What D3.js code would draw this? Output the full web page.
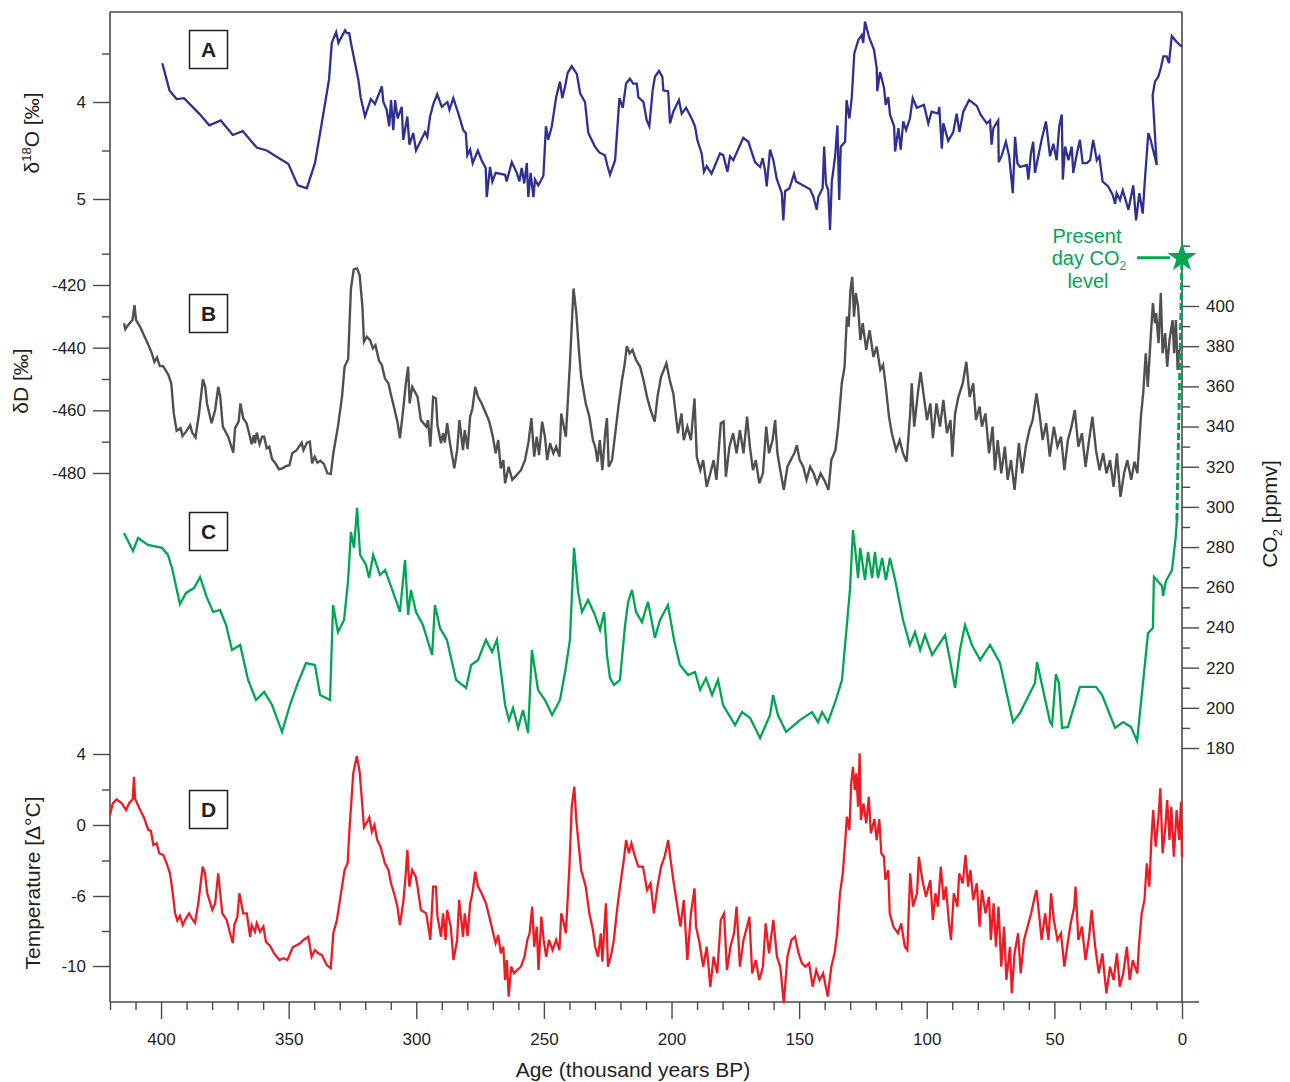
<!DOCTYPE html>
<html>
<head>
<meta charset="utf-8">
<script src="https://cdn.jsdelivr.net/npm/d3@7/dist/d3.min.js"></script>
<style>
  body { margin: 0; background: #fff; }
  svg { display: block; }
</style>
</head>
<body>
<svg id="chart" width="1290" height="1082"></svg>
<script>
// A: benthic d18O stack (per mil)
const aAge = [399.5,396.7,393.9,391.0,384.7,381.1,376.6,371.9,368.0,362.5,358.6,350.1,346.4,342.9,339.7,336.4,334.2,333.1,331.4,330.5,327.9,327.2,326.3,325.3,322.7,321.8,320.1,317.8,316.2,313.5,312.9,311.6,310.6,309.9,309.0,308.3,307.3,305.7,305.1,303.5,302.7,301.2,300.1,296.6,295.7,294.6,293.3,291.8,290.0,287.8,287.0,285.5,283.5,281.6,280.6,280.0,278.9,277.9,275.9,274.4,272.8,272.4,271.1,270.2,268.9,265.2,264.6,262.6,260.6,259.6,258.7,257.7,256.7,256.1,255.2,254.1,253.5,252.2,250.2,249.2,248.3,246.9,245.2,243.7,242.8,241.7,240.7,239.1,237.1,235.8,233.9,232.6,230.0,228.3,226.1,225.2,224.1,222.1,220.4,219.1,217.8,216.3,215.0,213.6,213.0,211.0,209.7,208.7,207.4,206.5,204.9,203.6,203.2,201.3,200.6,199.3,197.1,196.0,194.3,192.1,190.8,189.9,188.2,187.3,186.2,184.3,181.0,179.7,178.1,177.1,175.8,171.9,169.9,167.3,165.3,164.3,163.4,162.7,161.4,160.1,158.8,156.8,156.2,155.5,153.8,152.0,151.2,145.7,144.4,143.1,142.5,140.8,140.2,139.5,138.6,137.9,137.2,135.9,135.0,134.3,133.7,132.0,131.4,130.3,129.4,128.4,126.8,125.5,124.9,124.2,122.5,120.7,119.6,119.4,118.3,116.7,116.1,115.1,114.4,112.8,112.4,111.1,110.2,109.2,108.1,106.6,105.5,103.9,101.1,99.4,98.1,95.5,95.1,94.1,93.5,91.6,89.6,88.3,87.2,85.7,83.4,80.4,78.9,76.5,75.2,74.6,73.9,72.0,71.8,70.6,69.0,67.7,66.3,65.4,64.5,63.5,60.8,60.2,59.2,58.3,57.6,56.3,55.0,53.3,51.7,50.4,49.1,48.1,47.1,46.7,45.8,44.5,43.2,42.6,41.3,40.0,38.9,37.3,36.0,34.8,33.4,32.4,31.1,28.9,27.1,26.2,25.6,24.3,23.2,21.0,19.1,18.0,16.7,15.4,14.5,13.2,12.3,9.9,11.5,10.6,9.3,8.3,7.3,6.0,5.1,4.0,2.1,0.1];
const aVal = [3.60,3.88,3.97,3.96,4.13,4.24,4.19,4.34,4.30,4.47,4.50,4.64,4.86,4.89,4.63,4.12,3.77,3.39,3.28,3.39,3.26,3.29,3.29,3.43,3.77,3.95,4.15,3.97,4.02,3.84,4.00,4.08,4.25,3.98,4.29,3.98,4.17,4.05,4.39,4.15,4.44,4.32,4.50,4.31,4.36,4.15,4.02,3.92,4.05,4.00,4.08,3.96,4.12,4.29,4.32,4.55,4.49,4.63,4.50,4.60,4.68,4.98,4.67,4.82,4.73,4.75,4.82,4.62,4.73,4.82,4.68,4.84,4.63,4.98,4.73,4.98,4.80,4.86,4.76,4.25,4.39,4.25,3.95,3.79,3.96,3.84,3.70,3.63,3.71,3.91,4.00,4.32,4.46,4.52,4.55,4.65,4.75,4.60,3.96,4.06,3.81,3.76,3.81,3.81,3.95,4.00,4.19,4.25,3.88,3.74,3.68,3.74,3.88,3.89,4.22,4.10,3.98,4.12,4.06,4.17,4.25,4.39,4.53,4.72,4.66,4.74,4.53,4.55,4.72,4.56,4.60,4.37,4.41,4.62,4.67,4.58,4.70,4.87,4.49,4.60,4.79,4.94,5.22,4.92,4.89,4.74,4.82,4.90,4.98,5.11,4.98,4.89,4.46,4.84,4.91,5.32,4.82,4.56,4.24,5.01,4.46,4.41,3.98,4.17,3.96,3.50,3.36,3.31,3.39,3.17,3.34,3.46,3.65,3.89,3.69,3.86,4.03,3.95,4.13,4.25,4.51,4.27,4.49,4.20,4.29,4.17,3.96,4.06,4.03,4.22,4.10,4.12,4.05,4.48,4.22,4.40,4.31,4.12,4.31,4.10,3.98,4.04,4.13,4.22,4.19,4.44,4.27,4.19,4.62,4.55,4.41,4.56,4.94,4.36,4.63,4.67,4.65,4.80,4.53,4.41,4.73,4.56,4.39,4.20,4.56,4.43,4.60,4.25,4.13,4.80,4.46,4.60,4.46,4.73,4.55,4.39,4.63,4.63,4.60,4.39,4.60,4.56,4.82,4.87,4.96,5.05,4.94,5.01,4.91,5.11,4.86,5.22,4.94,5.15,4.79,4.32,4.39,4.65,3.93,3.79,3.74,3.65,3.53,3.53,3.60,3.32,3.38,3.43];

// B: deuterium (per mil)
const bAge = [414.5,414.0,412.9,411.2,410.4,409.8,408.1,406.7,404.9,403.6,402.6,401.6,400.5,399.2,397.1,396.0,395.0,393.9,392.3,391.6,390.2,388.6,387.8,386.5,385.2,383.6,382.7,382.0,380.2,378.8,377.6,376.8,375.8,373.7,371.7,371.0,369.6,368.9,367.8,366.5,365.5,364.5,363.7,363.2,362.5,361.4,360.4,359.6,358.6,357.6,356.5,355.2,353.8,352.4,351.1,349.7,348.6,346.9,344.9,344.2,342.8,341.7,340.8,339.8,338.7,337.6,336.2,334.8,333.5,332.5,330.7,329.1,328.1,326.7,325.6,324.5,323.2,322.2,321.1,320.5,319.4,318.1,317.0,316.0,314.6,313.5,312.3,310.9,309.9,308.8,307.4,306.4,305.0,304.1,303.2,302.6,301.6,300.2,299.5,298.2,296.1,295.4,294.5,293.4,292.3,291.7,290.3,289.5,288.8,287.9,286.8,285.1,284.0,283.1,281.7,281.0,279.9,278.9,278.0,276.9,275.8,274.4,272.7,271.4,270.0,268.9,267.9,266.9,265.9,265.2,263.8,262.4,260.6,259.0,257.4,256.0,254.9,253.8,252.8,251.9,250.7,249.6,248.7,247.6,246.3,245.2,243.9,243.2,242.2,241.4,239.8,238.4,237.3,236.3,235.4,233.6,232.2,230.8,229.9,229.0,228.1,227.1,226.0,225.3,224.6,223.3,222.2,220.8,219.4,218.5,217.5,216.4,215.3,213.9,212.3,211.0,209.6,208.2,206.6,205.5,204.1,202.0,200.7,199.3,197.5,196.1,195.2,193.8,192.4,191.0,190.1,188.7,187.6,186.2,184.8,183.5,182.4,180.7,179.6,178.7,177.3,175.9,174.5,173.2,171.8,170.4,169.3,168.1,167.0,165.6,164.2,162.9,161.8,160.4,159.4,158.5,157.4,156.0,154.6,153.3,151.9,150.9,149.8,148.4,147.1,145.7,144.3,143.0,141.6,140.2,138.5,137.4,135.8,134.7,133.3,132.2,131.3,130.6,129.9,129.2,128.5,127.8,126.9,126.0,125.1,123.7,122.4,120.9,119.6,118.2,117.1,116.2,114.8,113.7,112.0,110.6,109.3,107.9,106.5,105.9,104.9,103.5,102.4,101.3,99.9,98.6,97.6,96.2,94.8,93.5,92.1,90.7,90.0,88.9,87.6,85.9,84.5,83.2,81.8,80.7,79.3,78.4,77.0,75.6,74.2,73.3,72.2,70.8,69.4,68.3,67.0,65.6,63.9,62.6,61.2,59.8,58.5,57.0,55.7,54.6,53.2,51.8,50.2,48.8,47.4,46.1,44.7,43.3,42.0,40.6,39.2,37.8,36.4,35.1,33.7,32.3,30.9,29.6,28.2,26.8,25.5,24.1,22.7,21.4,19.9,18.6,17.5,16.1,15.2,14.2,13.4,12.4,11.4,10.6,10.1,9.2,8.3,7.6,6.6,5.8,4.9,3.7,3.1,2.4,1.7,1.0];
const bVal = [-432.2,-434.1,-432.8,-431.2,-426.4,-431.2,-433.5,-436.0,-439.2,-441.8,-444.5,-443.1,-445.9,-445.9,-448.7,-451.4,-461.0,-466.5,-465.7,-468.2,-466.8,-464.7,-467.1,-468.6,-461.5,-450.1,-452.5,-457.8,-464.1,-459.9,-452.5,-455.7,-465.2,-468.4,-473.5,-465.7,-463.6,-457.8,-462.5,-464.1,-467.3,-470.8,-467.9,-470.5,-467.1,-470.8,-468.4,-468.4,-472.1,-471.6,-475.6,-476.9,-478.8,-478.5,-477.8,-477.5,-473.7,-472.7,-470.3,-472.7,-470.3,-470.0,-476.9,-474.8,-476.7,-476.1,-477.1,-480.1,-480.3,-473.7,-465.2,-455.7,-446.1,-443.7,-421.1,-415.0,-414.7,-416.8,-426.9,-438.1,-436.5,-437.6,-440.2,-439.2,-444.2,-445.5,-449.8,-451.4,-455.1,-458.8,-463.6,-468.9,-458.8,-451.4,-446.1,-457.8,-452.5,-454.6,-455.7,-463.1,-465.2,-463.1,-471.6,-455.7,-456.2,-464.7,-470.5,-467.3,-470.3,-464.1,-470.5,-478.5,-472.7,-463.1,-472.7,-466.3,-472.4,-462.0,-459.4,-452.5,-455.7,-457.8,-461.0,-463.6,-468.4,-473.7,-469.5,-478.5,-475.9,-483.3,-478.0,-482.2,-480.6,-479.1,-475.9,-470.0,-462.5,-474.8,-468.4,-474.3,-463.6,-468.4,-475.9,-470.5,-473.7,-471.6,-474.8,-461.0,-465.2,-468.4,-445.0,-421.1,-429.0,-440.7,-449.3,-457.8,-462.0,-469.5,-471.6,-476.4,-469.5,-479.1,-467.3,-462.5,-478.0,-475.9,-468.4,-458.8,-450.3,-446.1,-439.5,-441.8,-440.7,-443.9,-446.1,-450.3,-455.7,-459.9,-463.6,-455.7,-449.3,-445.0,-450.3,-454.6,-467.3,-461.0,-469.5,-465.2,-469.5,-456.2,-474.8,-479.1,-475.9,-484.4,-480.1,-475.9,-482.2,-464.1,-463.6,-481.2,-471.6,-467.3,-473.7,-466.3,-473.7,-462.0,-471.6,-479.1,-475.9,-483.3,-480.1,-465.2,-473.7,-469.5,-463.1,-473.7,-479.1,-485.4,-478.0,-475.9,-473.7,-471.1,-475.9,-478.0,-482.2,-478.0,-480.1,-483.3,-480.1,-482.2,-485.4,-475.9,-472.7,-465.2,-451.4,-446.1,-430.1,-433.3,-421.6,-417.4,-430.1,-422.6,-426.9,-437.6,-432.2,-440.7,-434.4,-442.9,-439.7,-447.1,-445.5,-451.4,-462.0,-467.3,-472.7,-469.5,-473.7,-476.4,-461.0,-451.4,-465.2,-454.6,-447.7,-454.6,-463.1,-457.8,-468.9,-457.8,-465.2,-456.7,-467.3,-463.1,-474.8,-461.0,-455.7,-451.4,-444.5,-455.7,-451.4,-463.1,-458.8,-465.2,-461.0,-473.7,-465.2,-479.1,-469.5,-480.1,-471.6,-482.2,-475.9,-485.4,-470.5,-480.1,-471.6,-466.3,-463.1,-454.6,-462.0,-469.5,-464.1,-474.8,-465.2,-471.6,-468.4,-479.1,-469.5,-465.2,-459.9,-471.6,-467.3,-478.0,-469.5,-462.0,-472.7,-479.1,-473.7,-480.1,-475.9,-484.4,-473.7,-487.6,-480.1,-475.9,-482.2,-476.4,-480.1,-462.0,-454.6,-441.8,-452.5,-438.6,-425.8,-432.2,-429.0,-438.6,-422.6,-441.8,-435.4,-446.1,-437.6,-431.2,-441.8,-431.2,-447.1,-440.7];

// C: CO2 (ppmv)
const cAge = [414.5,411.0,409.0,405.1,399.6,397.3,395.7,392.6,390.2,387.1,384.7,382.0,379.6,376.9,374.5,372.2,369.0,365.9,362.8,359.6,356.5,352.6,349.5,346.7,343.2,339.7,337.7,333.8,332.6,330.7,328.3,326.7,325.6,324.4,323.2,322.0,319.7,318.5,316.9,314.2,312.2,308.3,306.4,304.4,303.2,302.1,300.1,297.4,293.8,292.7,290.7,288.0,284.4,280.5,278.5,275.8,272.7,270.3,268.4,265.2,263.7,262.1,260.1,258.2,256.2,254.7,252.3,249.6,246.8,243.7,241.7,239.8,238.2,236.6,235.1,232.7,230.0,228.0,226.4,225.3,224.1,222.5,220.2,218.2,217.0,215.5,213.9,211.6,209.2,206.5,204.5,201.4,199.0,196.7,193.5,190.8,188.8,186.5,184.1,181.8,179.8,175.1,172.4,169.2,165.3,161.4,160.2,158.3,155.1,149.7,145.0,142.6,141.0,138.7,135.6,133.2,130.1,128.9,128.1,126.9,126.1,124.2,123.0,121.4,120.3,119.1,117.5,116.0,114.4,112.4,109.3,106.6,104.6,102.6,100.7,97.9,92.8,90.9,88.9,87.0,85.0,82.3,79.1,75.2,71.3,66.2,63.5,57.6,56.8,51.7,50.9,49.4,48.2,47.0,44.7,40.0,33.7,31.3,26.2,23.1,20.0,17.6,13.3,11.4,11.0,7.8,7.4,6.3,3.9,2.4,2.0];
const cVal = [287.0,278.1,284.5,281.1,279.6,276.1,269.6,251.7,257.2,259.6,265.1,254.7,247.7,248.7,241.2,228.8,231.3,213.9,203.9,207.9,201.4,188.0,201.4,211.4,222.3,221.3,206.4,203.9,251.2,237.7,243.7,263.6,287.5,279.6,299.5,276.1,271.1,264.6,276.1,266.1,268.6,254.7,247.7,273.6,246.2,258.7,247.7,241.2,226.3,251.2,239.7,233.8,213.9,209.9,221.3,223.8,233.8,227.8,233.8,201.4,193.9,199.9,190.0,198.9,187.5,228.8,208.9,203.9,196.4,203.9,217.8,233.8,279.6,257.7,247.7,253.7,246.2,238.7,247.7,226.3,214.8,211.4,213.9,241.2,252.7,258.7,247.7,242.7,252.7,234.8,243.7,251.2,233.8,221.3,216.3,217.8,208.9,214.8,206.4,213.9,201.4,191.4,197.9,194.9,185.0,196.4,206.4,196.4,188.0,193.9,197.9,192.9,197.9,192.9,203.9,213.9,258.7,288.5,279.6,264.6,279.6,263.6,277.6,264.6,277.6,264.6,274.6,263.6,274.6,263.6,243.7,231.3,237.7,228.8,236.2,226.3,236.2,223.8,209.9,228.8,241.2,231.3,223.8,231.3,222.3,192.9,197.4,212.4,222.8,192.9,191.4,216.8,212.4,190.0,190.5,210.4,210.4,206.4,190.0,192.9,190.5,183.5,237.2,239.7,265.1,260.6,255.7,263.1,268.6,286.0,293.5];
const presentCO2 = [[2.0, 293.5], [0, 424]];

// D: temperature anomaly (deg C)
const dAge = [420.0,418.9,417.4,415.4,413.7,412.4,411.1,410.6,410.2,408.5,406.7,405.0,404.0,403.0,401.7,400.7,399.1,397.8,396.5,395.4,394.5,393.6,392.6,391.5,390.6,389.0,388.0,386.7,385.4,383.7,382.8,381.9,379.9,378.8,377.6,376.0,374.3,371.9,371.3,370.1,369.3,367.8,366.4,365.1,364.5,363.2,362.5,361.2,359.9,358.9,357.3,355.7,353.6,352.1,350.5,348.4,345.5,344.2,342.3,341.0,339.7,338.4,337.0,335.1,333.5,332.5,331.1,329.1,328.1,326.9,326.1,324.7,323.3,322.2,321.1,320.5,319.2,318.4,317.4,316.4,315.3,314.0,312.3,310.9,309.9,308.5,307.4,306.4,305.0,304.1,303.5,302.7,301.6,300.2,299.5,298.2,296.1,294.5,293.4,292.3,291.7,290.3,289.5,288.5,287.9,286.5,285.4,284.0,283.2,281.7,281.0,279.9,278.9,278.0,276.9,275.8,274.4,272.7,271.4,270.0,268.9,267.9,266.9,265.9,265.2,264.5,263.8,262.8,261.7,260.4,259.0,257.6,256.5,255.6,254.6,253.8,252.8,252.1,251.0,250.1,249.1,248.0,246.6,245.2,243.9,243.2,242.2,241.4,240.0,239.1,238.1,237.3,236.3,235.4,233.6,232.2,230.8,229.9,228.8,227.7,227.1,226.3,225.7,224.9,223.5,222.6,221.2,219.8,218.7,217.8,216.7,215.7,214.3,213.0,211.2,209.6,208.2,206.9,205.5,204.1,202.7,201.3,200.7,199.3,197.9,196.5,195.2,193.8,192.4,191.0,190.4,189.0,187.6,186.2,184.8,183.5,182.1,180.7,179.4,178.3,176.9,175.5,174.5,173.2,171.8,170.4,169.5,168.4,167.0,165.6,164.2,163.1,161.8,160.1,158.7,157.4,156.0,154.6,153.0,151.6,150.2,148.9,147.5,146.1,144.7,143.3,142.0,140.6,138.8,137.4,136.1,135.1,134.0,132.9,131.9,131.3,130.3,129.6,128.9,128.2,127.6,126.9,126.3,125.8,124.8,123.7,122.7,121.9,120.5,119.6,118.6,117.8,116.8,116.2,115.1,114.5,113.1,111.3,110.0,108.6,107.6,106.5,105.4,103.8,103.1,101.7,100.3,98.6,97.6,96.6,95.6,94.5,93.4,92.5,91.4,90.5,89.4,88.0,87.3,85.9,84.8,83.8,82.9,81.8,80.4,79.3,78.4,77.0,75.6,74.9,73.8,72.9,71.9,70.8,69.7,68.8,67.4,66.7,65.6,64.2,63.2,61.9,60.5,59.1,57.7,57.0,55.9,55.0,53.6,52.3,51.3,50.2,48.8,47.4,46.1,45.0,43.6,42.2,41.7,40.6,39.2,37.8,36.4,35.4,34.0,32.6,31.2,29.6,28.2,26.8,25.5,24.4,23.0,21.6,20.5,19.3,17.5,16.9,15.8,14.7,13.8,12.8,12.0,11.3,10.3,9.2,8.5,7.6,6.5,5.8,4.9,4.2,3.2,2.1,1.1,0.4,0.0];
const dVal = [0.56,1.22,1.45,1.22,0.84,1.26,1.45,2.72,1.50,0.94,0.43,-0.42,-0.48,-1.69,-1.55,-2.39,-2.54,-3.24,-4.08,-5.78,-6.99,-7.41,-7.14,-7.66,-7.37,-6.99,-7.27,-7.53,-6.42,-3.52,-4.08,-5.77,-6.80,-6.42,-4.08,-6.99,-7.37,-8.70,-7.66,-7.18,-5.77,-6.99,-6.99,-8.33,-7.66,-8.04,-7.56,-8.04,-7.75,-8.61,-8.86,-9.28,-9.66,-9.56,-9.66,-8.93,-8.70,-8.51,-8.33,-9.47,-9.09,-9.28,-9.37,-9.94,-10.13,-8.13,-7.37,-5.21,-3.80,-3.24,-0.14,2.91,3.89,3.00,1.03,-0.19,0.19,0.43,-0.57,0.00,-1.27,-1.83,-3.24,-3.80,-4.93,-5.92,-6.61,-7.66,-6.23,-4.08,-2.11,-5.21,-3.80,-4.37,-5.21,-6.80,-6.99,-8.51,-5.21,-5.21,-7.18,-8.33,-6.99,-8.51,-6.80,-7.75,-9.66,-8.51,-6.23,-8.33,-6.99,-8.29,-6.42,-5.77,-3.95,-5.21,-5.77,-6.42,-7.18,-8.04,-8.70,-8.23,-9.28,-8.90,-10.80,-9.66,-11.75,-10.04,-10.42,-10.23,-10.04,-9.47,-8.51,-8.13,-6.61,-8.90,-7.75,-10.23,-7.18,-8.51,-9.47,-8.51,-9.09,-8.51,-9.09,-6.99,-7.56,-8.13,-3.52,1.03,2.16,0.28,-1.83,-3.80,-5.21,-6.99,-7.94,-8.90,-9.47,-8.13,-9.76,-7.75,-6.42,-10.04,-9.28,-8.51,-6.61,-4.65,-2.96,-1.27,-2.39,-1.55,-2.68,-3.52,-3.52,-5.49,-4.93,-6.99,-5.21,-3.52,-2.68,-1.27,-2.39,-4.65,-6.42,-7.75,-6.23,-9.66,-6.99,-5.35,-7.75,-8.70,-10.04,-8.90,-11.19,-9.47,-10.42,-7.37,-6.99,-10.23,-8.90,-8.13,-6.61,-10.04,-8.51,-7.75,-7.18,-10.42,-9.66,-10.80,-10.04,-7.56,-9.28,-7.37,-9.47,-10.04,-12.13,-9.47,-8.51,-8.33,-9.28,-9.85,-10.04,-9.85,-11.18,-10.23,-10.80,-10.42,-11.75,-10.04,-9.28,-8.13,-5.77,-4.08,-1.27,0.47,-0.42,2.35,3.28,1.97,2.91,1.03,4.04,0.28,1.22,0.10,1.59,-0.70,0.34,-1.27,0.34,-2.39,-2.68,-4.65,-3.80,-6.99,-7.75,-8.13,-7.56,-8.90,-9.09,-4.08,-6.61,-5.77,-2.68,-4.65,-6.04,-4.65,-7.37,-5.77,-6.61,-3.52,-6.23,-5.21,-7.37,-8.51,-5.77,-6.61,-4.08,-4.93,-2.54,-5.21,-3.80,-6.23,-4.93,-7.75,-5.49,-6.99,-6.04,-8.51,-6.42,-8.90,-6.61,-10.04,-7.75,-10.80,-8.90,-11.56,-9.28,-8.13,-10.42,-8.51,-7.75,-6.99,-6.04,-5.49,-7.18,-8.51,-6.99,-8.51,-5.77,-7.37,-8.51,-8.13,-10.04,-8.90,-7.56,-6.61,-5.21,-8.51,-7.75,-9.66,-8.33,-6.80,-8.90,-10.42,-9.28,-11.56,-10.04,-10.80,-9.28,-11.18,-10.42,-8.90,-10.80,-9.66,-10.42,-8.90,-6.99,-6.23,-3.24,-5.21,-1.27,0.84,-1.83,0.47,2.07,-2.39,-0.14,1.41,-1.27,1.03,-2.68,0.84,-1.27,1.31,-2.68];

// ticks
const ageMajor = [400, 350, 300, 250, 200, 150, 100, 50, 0];
const ageMinor = [420, 410, 390, 380, 370, 360, 340, 330, 320, 310, 290, 280, 270, 260, 240, 230, 220, 210, 190, 180, 170, 160, 140, 130, 120, 110, 90, 80, 70, 60, 40, 30, 20, 10];
const aMajor = [4, 5];
const aMinor = [3.5, 4.5];
const bMajor = [-420, -440, -460, -480];
const bMinor = [-410, -430, -450, -470];
const cMajor = [180, 200, 220, 240, 260, 280, 300, 320, 340, 360, 380, 400];
const cMinor = [190, 210, 230, 250, 270, 290, 310, 330, 350, 370, 390, 410, 430];
const dMajor = [4, 0, -6, -10];
const dMinor = [2, -3, -8];

const font = "'Liberation Sans', Arial, Helvetica, sans-serif";
const ink = "#231f20";
const axisColor = "#4a4a4a";
const green = "#00a651";

const svg = d3.select("#chart").attr("font-family", font);

const x = d3.scaleLinear().domain([420, 0]).range([110, 1182]);
const yA = d3.scaleLinear().domain([4, 5]).range([102, 199]);
const yB = d3.scaleLinear().domain([-420, -480]).range([285, 473]);
const yC = d3.scaleLinear().domain([180, 400]).range([748, 306]);
const yD = d3.scaleLinear().domain([4, 0, -6, -10]).range([754, 825, 896, 966]);

const xLeft = x.range()[0];
const xRight = x.range()[1];
const yTop = 12;
const yBottom = 1002;
const plain = d => String(d);

function drawAxis(axis, transform) {
  const g = svg.append("g")
    .attr("transform", transform)
    .call(axis)
    .attr("font-family", null)
    .attr("font-size", 17);
  g.select(".domain").remove();
  g.selectAll(".tick line").attr("stroke", axisColor).attr("stroke-width", 1.4);
  g.selectAll(".tick text").attr("fill", ink);
  return g;
}

function majorMinor(make, scale, major, minor, transform) {
  drawAxis(make(scale).tickValues(minor).tickSize(8).tickFormat(""), transform);
  drawAxis(make(scale).tickValues(major).tickSize(17).tickPadding(7).tickFormat(plain), transform);
}

majorMinor(d3.axisLeft, yA, aMajor, aMinor, `translate(${xLeft},0)`);
majorMinor(d3.axisLeft, yB, bMajor, bMinor, `translate(${xLeft},0)`);
majorMinor(d3.axisLeft, yD, dMajor, dMinor, `translate(${xLeft},0)`);
majorMinor(d3.axisRight, yC, cMajor, cMinor, `translate(${xRight},0)`);

drawAxis(d3.axisBottom(x).tickValues(ageMinor).tickSize(8).tickFormat(""), `translate(0,${yBottom})`);
drawAxis(d3.axisBottom(x).tickValues(ageMajor).tickSize(17).tickPadding(14).tickFormat(plain), `translate(0,${yBottom})`);

// frame lines
const frame = svg.append("g").attr("stroke", axisColor).attr("stroke-width", 1.6).attr("fill", "none");
frame.append("line").attr("x1", xLeft).attr("x2", xLeft).attr("y1", yTop).attr("y2", yBottom);
frame.append("line").attr("x1", xRight).attr("x2", xRight).attr("y1", yTop).attr("y2", yBottom);
frame.append("line").attr("x1", xLeft).attr("x2", xRight).attr("y1", yTop).attr("y2", yTop);
frame.append("line").attr("x1", xLeft).attr("x2", xRight + 17).attr("y1", yBottom).attr("y2", yBottom);

function drawSeries(ages, values, y, color, width) {
  const line = d3.line().x(d => x(d[0])).y(d => y(d[1]));
  svg.append("path")
    .datum(d3.zip(ages, values))
    .attr("fill", "none")
    .attr("stroke", color)
    .attr("stroke-width", width)
    .attr("d", line);
}

drawSeries(aAge, aVal, yA, "#2e3192", 2.3);
drawSeries(bAge, bVal, yB, "#505050", 2.4);
drawSeries(cAge, cVal, yC, green, 2.3);
drawSeries(dAge, dVal, yD, "#ed1c24", 2.3);

// present day CO2
svg.append("path")
  .datum(presentCO2)
  .attr("fill", "none")
  .attr("stroke", green)
  .attr("stroke-width", 3)
  .attr("stroke-dasharray", "7,3")
  .attr("d", d3.line().x(d => x(d[0])).y(d => yC(d[1])));

const starX = x(presentCO2[1][0]);
const starY = yC(presentCO2[1][1]);
svg.append("line")
  .attr("x1", starX - 45).attr("x2", starX - 12)
  .attr("y1", starY).attr("y2", starY)
  .attr("stroke", green).attr("stroke-width", 3);
svg.append("path")
  .attr("transform", `translate(${starX},${starY})`)
  .attr("fill", green)
  .attr("d", d3.symbol(d3.symbolStar, 270)());

const note = svg.append("g").attr("fill", green).attr("font-size", 20).attr("text-anchor", "middle");
note.append("text").attr("x", 1087).attr("y", 243).text("Present");
const noteMid = note.append("text").attr("x", 1089).attr("y", 265);
noteMid.append("tspan").text("day CO");
noteMid.append("tspan").attr("font-size", 12).attr("dy", 5).text("2");
note.append("text").attr("x", 1088).attr("y", 288).text("level");

// panel letters
const panels = [["A", 30], ["B", 294], ["C", 512], ["D", 790]];
panels.forEach(([label, y0]) => {
  svg.append("rect")
    .attr("x", 189.5).attr("y", y0 + 0.5).attr("width", 38).attr("height", 38)
    .attr("fill", "#fff").attr("stroke", ink).attr("stroke-width", 1.5);
  svg.append("text")
    .attr("x", 208.5).attr("y", y0 + 27)
    .attr("text-anchor", "middle").attr("font-size", 21).attr("font-weight", "bold")
    .attr("fill", ink).text(label);
});

// axis titles
function vTitle(tx, ty, build) {
  const t = svg.append("text")
    .attr("transform", `translate(${tx},${ty}) rotate(-90)`)
    .attr("text-anchor", "middle").attr("font-size", 21).attr("fill", ink);
  build(t);
}

vTitle(39, 133, t => {
  t.append("tspan").text("δ");
  t.append("tspan").attr("font-size", 13).attr("dy", -8).text("18");
  t.append("tspan").attr("dy", 8).text("O [‰]");
});
vTitle(28, 381, t => t.text("δD [‰]"));
vTitle(40, 883, t => t.text("Temperature [Δ°C]"));
vTitle(1277, 514, t => {
  t.append("tspan").text("CO");
  t.append("tspan").attr("font-size", 13).attr("dy", 5).text("2");
  t.append("tspan").attr("dy", -5).text(" [ppmv]");
});

svg.append("text")
  .attr("x", 633).attr("y", 1077)
  .attr("text-anchor", "middle").attr("font-size", 21).attr("fill", ink)
  .text("Age (thousand years BP)");
</script>
</body>
</html>
